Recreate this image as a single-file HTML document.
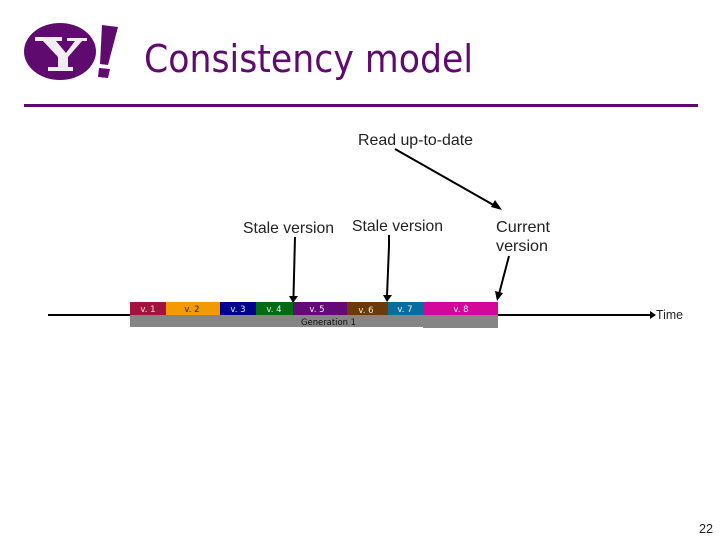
<!DOCTYPE html>
<html><head><meta charset="utf-8"><style>
html,body{margin:0;padding:0;background:#fff}
svg{display:block}
text{font-family:"Liberation Sans",sans-serif}
.d{font-family:"DejaVu Sans",sans-serif}
</style></head><body>
<svg width="720" height="540" viewBox="0 0 720 540" xmlns="http://www.w3.org/2000/svg">
<ellipse cx="60" cy="51.500" rx="36" ry="28.500" fill="#5f0a6e"/>
<path d="M35 37H62V41H56L66 53L75 41H67V38H87V41H82L68 57V67H73V71H48V67H58V57L43 41H35Z" fill="#f2edf2"/>
<path d="M102 25L118 27L108 65L100 64Z" fill="#5f0a6e"/>
<path d="M99 68L110 69L108 78L98 77Z" fill="#5f0a6e"/>
<text class="d" x="144" y="72" font-size="38" fill="#5f0a6e" textLength="329" lengthAdjust="spacingAndGlyphs">Consistency model</text>
<rect x="24" y="104" width="674" height="3" fill="#5f0a6e"/>
<text x="358" y="145" font-size="16" fill="#222" textLength="115" lengthAdjust="spacingAndGlyphs">Read up-to-date</text>
<text x="243" y="233" font-size="16" fill="#222" textLength="91" lengthAdjust="spacingAndGlyphs">Stale version</text>
<text x="352" y="231" font-size="16" fill="#222" textLength="91" lengthAdjust="spacingAndGlyphs">Stale version</text>
<text x="496" y="232" font-size="16" fill="#222" textLength="54" lengthAdjust="spacingAndGlyphs">Current</text>
<text x="496" y="251" font-size="16" fill="#222" textLength="52" lengthAdjust="spacingAndGlyphs">version</text>
<text x="656" y="319" font-size="12.500" fill="#222" textLength="27" lengthAdjust="spacingAndGlyphs">Time</text>
<text x="699" y="533" font-size="13" fill="#222" textLength="14" lengthAdjust="spacingAndGlyphs">22</text>
<g stroke="#000" stroke-width="2" fill="none">
<line x1="48" y1="315" x2="130" y2="315"/>
<line x1="498" y1="315" x2="650" y2="315"/>
<line x1="395" y1="149" x2="497" y2="207"/>
<path d="M295 237L293.500 296"/>
<path d="M389 235V246L387 296"/>
<line x1="509" y1="256" x2="499" y2="294"/>
</g>
<g fill="#000">
<polygon points="650,311 656,315 650,319"/>
<polygon points="502,210 491,207 495,200"/>
<polygon points="289,296 298,296 293,303"/>
<polygon points="383,295 392,295 387,302"/>
<polygon points="495,291 503,293 497,301"/>
</g>
<rect x="130" y="315" width="293" height="12" fill="#858585"/>
<rect x="423" y="315" width="75" height="13" fill="#858585"/>
<rect x="130" y="302" width="36" height="13" fill="#a5123d"/>
<rect x="166" y="302" width="54" height="13" fill="#f29a00"/>
<rect x="220" y="302" width="36" height="13" fill="#00008f"/>
<rect x="256" y="302" width="37" height="13" fill="#036b11"/>
<rect x="293" y="302" width="54" height="13" fill="#630a78"/>
<rect x="347" y="302" width="41" height="13" fill="#6b3a08"/>
<rect x="388" y="302" width="35" height="13" fill="#066d9e"/>
<rect x="423" y="302" width="75" height="13" fill="#d4079b"/>
<g class="d" font-size="8.500" text-anchor="middle">
<text class="d" x="148" y="312" fill="#eee">v. 1</text>
<text class="d" x="192" y="312" fill="#222">v. 2</text>
<text class="d" x="238" y="312" fill="#eee">v. 3</text>
<text class="d" x="274" y="312" fill="#eee">v. 4</text>
<text class="d" x="317" y="312" fill="#eee">v. 5</text>
<text class="d" x="366" y="313" fill="#eee">v. 6</text>
<text class="d" x="405" y="312" fill="#eee">v. 7</text>
<text class="d" x="461" y="312" fill="#eee">v. 8</text>
</g>
<text class="d" x="301" y="325" font-size="9" fill="#111" textLength="55" lengthAdjust="spacingAndGlyphs">Generation 1</text>
</svg>
</body></html>
